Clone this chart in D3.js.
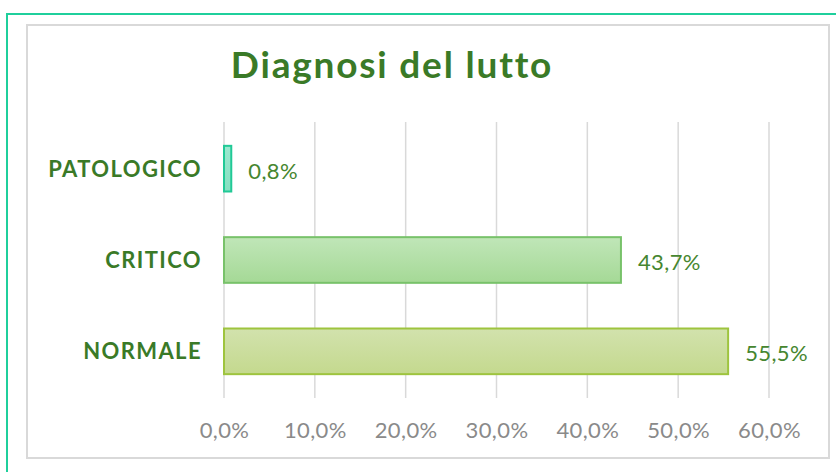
<!DOCTYPE html>
<html>
<head>
<meta charset="utf-8">
<script src="https://cdn.jsdelivr.net/npm/d3@7"></script>
<style>
  body { margin: 0; background: #fff; }
  svg { display: block; font-family: "Lato", "DejaVu Sans", sans-serif; }
</style>
</head>
<body>
<div id="chart"></div>
<script>
// data
var categories = ["PATOLOGICO", "CRITICO", "NORMALE"];
var values = [0.8, 43.7, 55.5];
var tickValues = [0, 10, 20, 30, 40, 50, 60];

var fills = [["#9be8cf", "#86e0c1"], ["#c0e6b8", "#a5d996"], ["#d2e2ad", "#c4d98e"]];
var strokes = ["#21c996", "#78c26a", "#9ec43e"];

var width = 836, height = 472;
var svg = d3.select("#chart").append("svg")
    .attr("width", width)
    .attr("height", height);

// outer teal frame
svg.append("rect")
    .attr("x", 7).attr("y", 14)
    .attr("width", 840).attr("height", 480)
    .attr("fill", "none")
    .attr("stroke", "#1fcf9c")
    .attr("stroke-width", 2);

// inner gray frame
svg.append("rect")
    .attr("x", 27).attr("y", 25)
    .attr("width", 802).attr("height", 433)
    .attr("fill", "#fff")
    .attr("stroke", "#d9d9d9")
    .attr("stroke-width", 2);

var defs = svg.append("defs");
fills.forEach(function(f, i) {
    var g = defs.append("linearGradient")
        .attr("id", "grad" + i)
        .attr("x1", 0).attr("y1", 0).attr("x2", 0).attr("y2", 1);
    g.append("stop").attr("offset", "0%").attr("stop-color", f[0]);
    g.append("stop").attr("offset", "100%").attr("stop-color", f[1]);
});

svg.append("text")
    .attr("x", 392).attr("y", 78)
    .attr("text-anchor", "middle")
    .attr("fill", "#3a7a27")
    .style("font-size", "37px")
    .style("font-weight", "bold")
    .style("letter-spacing", "1.8px")
    .text("Diagnosi del lutto");

var x = d3.scaleLinear().domain([0, 60]).range([224, 769]);
var y = d3.scaleBand().domain(categories).range([123, 397]).paddingInner(0.5).paddingOuter(0.25);

var pct = function(d) { return d3.format(".1f")(d).replace(".", ",") + "%"; };

// grid
svg.append("g")
    .selectAll("line")
    .data(tickValues)
    .enter()
    .append("line")
    .attr("x1", function(d) { return x(d); })
    .attr("x2", function(d) { return x(d); })
    .attr("y1", 122)
    .attr("y2", 398)
    .attr("stroke", "#d9d9d9")
    .attr("stroke-width", 1.5);

// x axis labels
var xAxis = svg.append("g")
    .attr("transform", "translate(0, 420)")
    .call(d3.axisBottom(x).tickValues(tickValues).tickSize(0).tickPadding(0).tickFormat(pct));
xAxis.select(".domain").remove();
xAxis.selectAll("text")
    .attr("dy", null)
    .attr("y", 18)
    .attr("fill", "#8a8a8a")
    .style("font-size", "22px")
    .style("font-weight", "normal")
    .style("letter-spacing", "0.4px")
    .style("font-family", "Lato, sans-serif");

// bars
svg.selectAll(".bar")
    .data(values)
    .enter()
    .append("rect")
    .attr("class", "bar")
    .attr("x", x(0))
    .attr("y", function(d, i) { return y(categories[i]); })
    .attr("width", function(d) { return x(d) - x(0); })
    .attr("height", y.bandwidth())
    .attr("fill", function(d, i) { return "url(#grad" + i + ")"; })
    .attr("stroke", function(d, i) { return strokes[i]; })
    .attr("stroke-width", 2);

// value labels
svg.selectAll(".val")
    .data(values)
    .enter()
    .append("text")
    .attr("class", "val")
    .attr("x", function(d) { return x(d) + 17; })
    .attr("y", function(d, i) { return y(categories[i]) + y.bandwidth() / 2 + 10; })
    .attr("fill", "#46862f")
    .style("font-size", "22px")
    .style("font-weight", "normal")
    .style("letter-spacing", "0.4px")
    .text(pct);

// category labels
svg.selectAll(".cat")
    .data(categories)
    .enter()
    .append("text")
    .attr("class", "cat")
    .attr("x", 202)
    .attr("y", function(d) { return y(d) + y.bandwidth() / 2 + 8; })
    .attr("text-anchor", "end")
    .attr("fill", "#3a7a27")
    .style("font-size", "22px")
    .style("font-weight", "bold")
    .style("letter-spacing", "1.4px")
    .text(function(d) { return d; });
</script>
</body>
</html>
